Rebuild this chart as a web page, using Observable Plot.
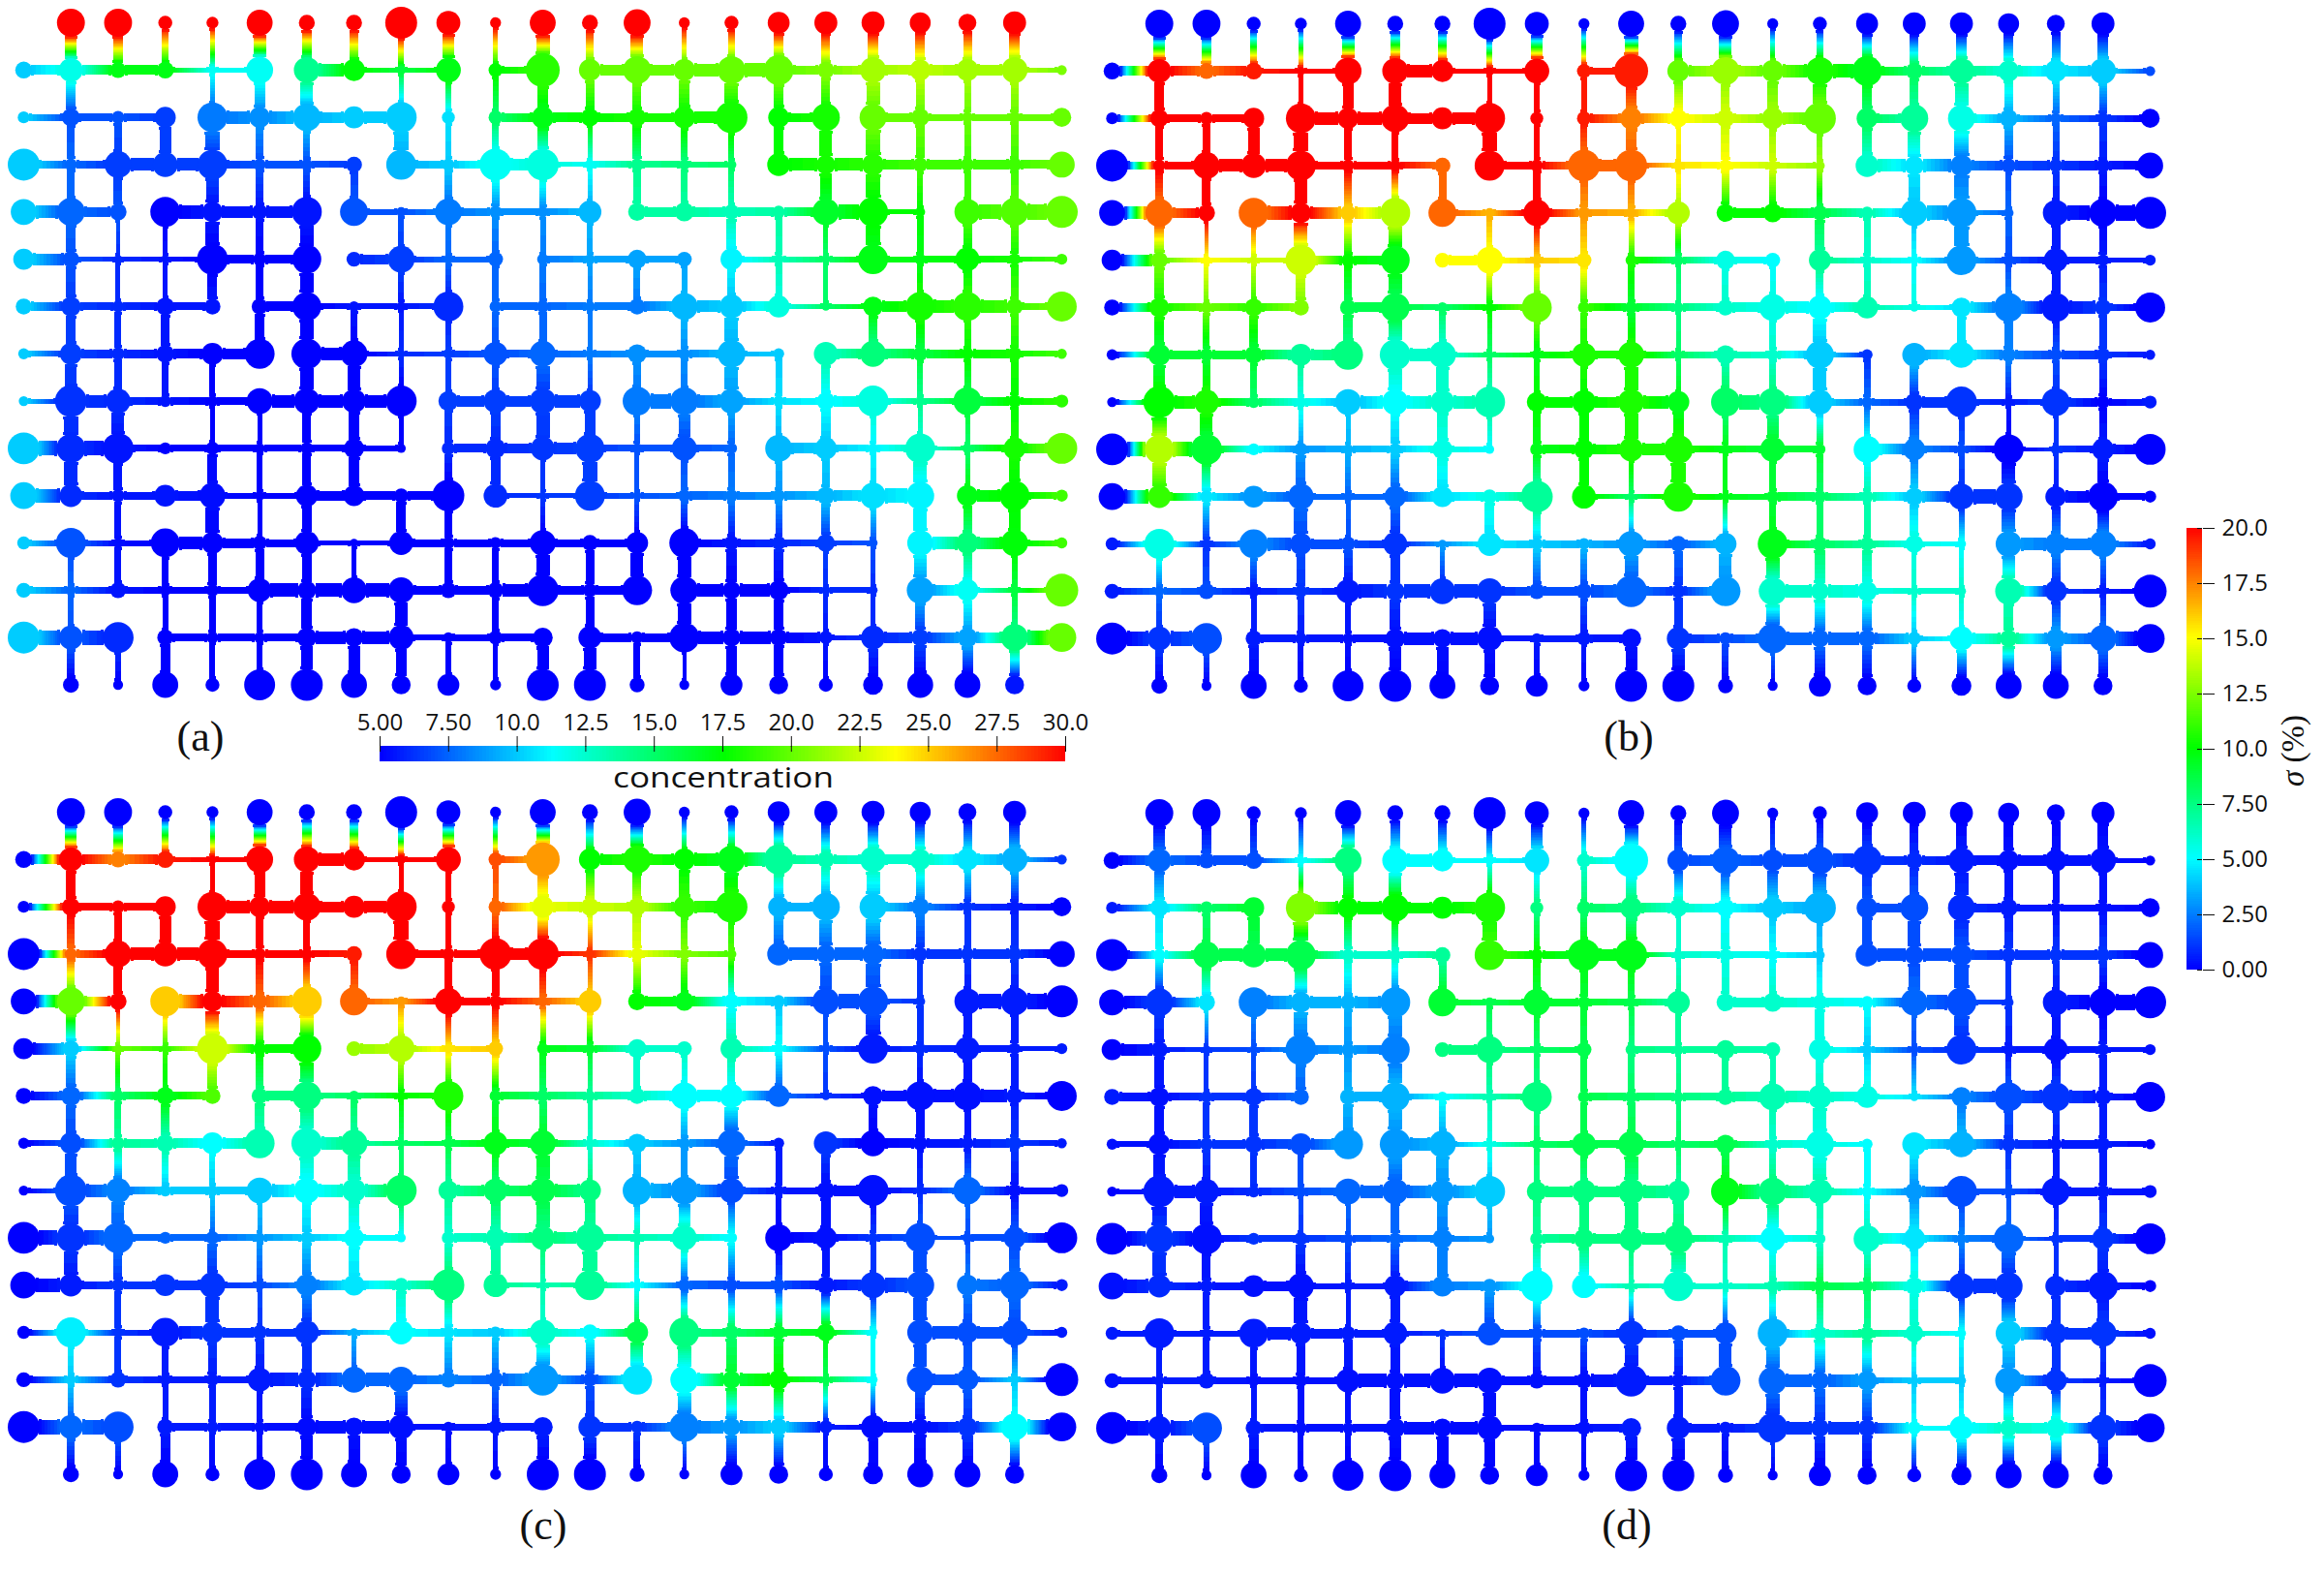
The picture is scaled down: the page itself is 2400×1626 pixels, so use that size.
<!DOCTYPE html>
<html><head><meta charset="utf-8">
<script src="https://cdn.jsdelivr.net/npm/d3@7"></script>
<script src="https://cdn.jsdelivr.net/npm/@observablehq/plot@0.6"></script>
<style>
html,body{margin:0;padding:0;background:#fff}
#page{position:relative;width:2400px;height:1626px;overflow:hidden;background:#fff}
#page svg{position:absolute;overflow:visible;background:transparent}
.lab{position:absolute;font-family:"Liberation Serif",serif;font-size:44px;line-height:44px;transform:translate(-50%,-50%);color:#111}
.barTitle{position:absolute;font-family:"Open Sans",sans-serif;font-weight:400;font-size:30px;line-height:30px;color:#111;transform:translate(-50%,-50%) scaleX(1.17);white-space:nowrap}
.sigma{position:absolute;font-family:"Liberation Serif",serif;font-size:33px;line-height:34px;color:#111;transform:translate(-50%,-50%) rotate(-90deg);white-space:nowrap}
</style></head><body><div id="page"></div>
<script>
// pore radius per row (15) and column (23); 0 = no pore
const poreRadius = [
[0,14,14,7,6,13,8,8,16,12,5.5,13,8,13.5,5.5,7,11,11.5,11.5,10.5,9,11.5,0],
[8.5,12,8,8.5,4,13.5,13,11,4,12.5,7,17,11,14,11,14,15,8.5,13,10.5,11,13,5],
[6,9,6.5,10.5,15,10.5,14,11,15.5,6.5,7,11,9,9,11,16,10.5,14,13.5,9,5,6,9.5],
[16,6,13.5,12.5,15,5,5,8,15,6,16,16,4.5,6,5,4.5,11.5,8,11,7,5,6,13],
[13,14,8.5,15,10,6,15,14,4,13.5,6,4,11.5,9,9.5,4,4,13.5,15,3.5,13,14,16],
[10.5,8,3,3,15.5,3,14.5,7.5,13.5,3,7.5,5,4,9.5,7.5,11,3,3,15,3,12,5,5.5],
[8,10,4,9,8,8,14.5,5,3,15,6,4,3,8,13.5,12,11,3,10,14.5,14.5,4,15],
[5.5,11,6,9,11,15,15.5,13.5,4,4,12,13,3,9.5,4,14,5.5,12,13,7,5,7,5],
[5,16,12.5,5,4,13,13,12,15.5,10,12,13,11,14.5,14,12.5,4,9,15.5,4,14,6,6.5],
[16,14.5,15.5,6,6.5,4,4,10,4,5.5,10,12,14.5,4,12.5,4.5,13.5,11,4,15,5,11,15.5],
[13.5,11.5,4,11,13,3,11,10.5,5,16,12,3,15,3,4,3.5,6,9,13,14,10.5,15,6],
[6.5,15,3.5,14.5,11,3,12,3.5,12,3,5,13,8,11,15,5.5,5,9,3.5,13,11,13.5,5.5],
[7.5,3,8,4,3.5,12,6,13,13,8,5,16,4,15,14,9,10,3,4,13.5,11,3.5,16.5],
[16,12,15.5,8,4,3.5,10,8,12.5,3.5,7,10,11.5,4,15,6,6,3,12,8.5,10,13.5,14.5],
[0,8,5,13,7,15.5,16,13,9.5,11,5.5,16,16,7.5,5,11,9.5,7,10,13,13,9.5,0]
];
// horizontal throat width, rows 1 to 13, between neighbouring columns; 0 = no throat
const hThroat = [
[10,10,10,5,5,0,13,5,5,0,7,0,11,11,13,14,9,9,10,11,11,5],
[7,8,8,0,13,13,11,12,0,0,9,10,9,9,12,0,9,0,9,7,7,7],
[8,8,13,13,8,8,7,0,8,8,12,5,7,7,6,0,13,13,10,10,10,9],
[13,10,0,14,12,12,0,6,6,8,7,7,0,10,10,9,9,15,5,0,15,16],
[12,5,5,5,9,9,0,10,6,6,0,7,7,7,0,6,6,6,6,7,7,5],
[9,8,8,8,0,10,6,6,6,0,8,8,8,10,12,10,5,5,11,13,13,7],
[6,9,9,10,11,0,13,5,5,7,8,7,7,7,8,5,0,10,10,9,9,6],
[5,13,8,8,8,13,13,13,0,11,11,13,0,15,13,7,7,11,6,6,9,7],
[15,15,7,7,7,7,7,6,0,9,10,12,7,7,7,0,11,7,7,4,7,10],
[14,8,8,10,6,6,10,9,9,0,5,5,6,6,9,8,9,11,15,0,12,7],
[6,6,6,13,10,8,5,5,8,8,8,8,8,0,8,8,7,5,0,13,12,6],
[7,7,7,7,7,14,14,14,9,9,13,9,9,0,13,13,6,6,0,11,5,5],
[15,15,0,8,8,8,13,13,6,7,8,0,9,9,13,13,11,5,11,11,11,15]
];
// vertical throat width, rows 0 to 13 going down, per column; 0 = no throat
const vThroat = [
[0,12,10,7,5,13,10,9,6,12,5,14,8,13,5,7,10,9,11,10,9,11,0],
[0,10,0,0,5,11,13,0,5,6,6,11,9,9,11,14,10,9,14,9,7,8,0],
[0,8,8,12,15,8,7,0,15,6,7,11,5,9,7,6,10,13,15,9,7,8,0],
[0,8,9,0,13,8,7,8,0,8,8,7,5,8,7,6,0,12,15,6,7,8,0],
[0,10,4,5,14,8,14,0,6,6,7,6,6,0,0,10,7,5,15,7,9,8,0],
[0,10,5,5,10,8,14,0,6,6,7,7,5,7,6,8,7,5,0,6,9,8,0],
[0,10,7,9,0,10,14,7,5,6,7,8,5,0,7,14,0,0,9,9,7,8,0],
[0,12,8,7,6,0,14,13,5,6,7,14,5,8,7,14,7,9,0,6,7,8,0],
[0,15,13,0,5,5,9,11,5,8,10,14,11,6,12,7,6,10,6,5,5,8,0],
[0,14,9,0,10,6,9,11,0,8,10,5,15,5,7,7,7,8,6,14,5,11,0],
[0,0,7,0,14,5,10,0,10,8,0,5,0,5,7,7,7,9,6,14,9,12,0],
[0,6,7,7,9,9,10,5,0,8,7,14,9,13,14,11,10,5,5,13,9,6,0],
[0,6,0,6,7,6,11,0,13,0,7,0,9,0,14,11,10,5,5,10,9,6,0],
[0,8,6,10,6,6,12,12,11,6,5,12,13,7,4,11,10,5,10,12,11,10,0]
];
// (a) concentration at each pore
const concentrationA = [
[0,30,30,30,30,30,30,30,30,30,30,30,30,30,30,30,30,30,30,30,30,30,0],
[10,11.8,17,17,11.5,11.5,14,17.3,16,17,17.5,18.5,20,20,20,20,20,20.5,21.5,22,21.5,21.5,20.5],
[10,7,7,6.5,8,8.5,9.5,10,10,10.5,15,17,17.5,18,18,18,17.5,18,20,20,20,20,20],
[10,7.5,6.5,6.5,6.5,7,7,6.5,9.5,10,11.5,12,11.5,14,14.5,15,17.5,18,18.5,19,19,19,20],
[10,7.5,7,5,5.5,5.5,5.5,7,7,8,8.5,8.5,9.5,13.5,13.5,13,13.5,16.5,17.5,17.5,19,19.5,20],
[10,7,6,5.5,5,5,5,6,6.5,7.5,7.5,8,9,9,9,11,13,15,17,17,17.5,18,19],
[10,6.5,6,5.5,5.5,5,5,5.5,5.5,6,7.5,7.5,8,8,9.5,10,12,15,17,18,18.5,19,20],
[10,6.5,6,5.5,5,5,5,5,6,6.5,7,7.5,8,8.5,8.5,9.5,10,13,14.5,16,17.5,18,19],
[10,6.2,6,5.5,5,5,5,5,5,6.5,6.5,6.5,6.5,8,8,9,10.5,11.2,12,14,16,17.5,18.5],
[10,6,5.5,5,5,5,5,5,5,6,6,6.3,6.5,7,7,7.5,9.5,10,11,12.5,15,18,20],
[10,6,5.5,5.5,5.3,5,5,5,5,5,6,6.3,6.5,7,7.5,8,8.7,9.5,10.5,11,17,17.5,19],
[10,7,5.3,5,5,5,5,5,5,5,5,5,5,5,5,5.5,6,6.5,7,11,14.5,17.3,19],
[10,7.5,5.5,5,5,5,5,5,5,5,5,5,5,5,5,5,5,6,6,9,11.5,16,20],
[10,7,6,5,5,5,5,5,5,5,5,5,5,5,5,5,5,5.5,6,6.5,9,14.5,20],
[0,5,5,5,5,5,5,5,5,5,5,5,5,5,5,5,5,5,5,5,5,5.5,0]
];
// (b) sigma at each pore
const sigmaB = [
[0,0,0,0,0,0,0,0,0,0,0,0,0,0,0,0,0,0,0,0,0,0,0],
[0,20,18,19.5,20,20,20,20,20,20,19.5,19.5,12,13,12,10.5,9.5,8,7,6,4.5,4,1.5],
[0,20,20,20,20,20,20,20,20,20,19.5,17.5,15,14,13,12,8,7,5.5,3.5,2,1,0],
[0,20,20,20,20,20,20,18,20,20,18,18,15.5,15,14,13,6,4.5,2.5,1.5,1,0.5,0],
[0,18,20,18,20,16,13.5,18,16.5,20,17,16.5,13.5,10,10,8.5,6.5,4,3,2,0.5,0,0],
[0,12,15,14,14,10,9.5,15,15,16,15.5,10.5,8,5.5,5,7,6,5,3,1.5,0.5,0.5,0.5],
[0,10.5,12,11,12.5,8.5,8.5,8,10,12,11,9,7.5,6,5.5,5,6.5,5.5,4.5,2.5,0.5,1,0],
[0,9,9,9,7,7.5,6,6,8,9.5,10.5,10.5,8,6.5,6,4,1,3.5,4.5,2.5,1.5,1,0.5],
[0,10,10.5,8,5.5,4,5,6,6.5,10,10,10.5,9.5,8,7.5,4,2,1,1,0.5,1,0,0.5],
[0,13.5,9,5,3,3.5,4,5.5,5,9.5,10,10.5,10.5,9.5,9,9,5,2.5,1.5,0,1,0.5,0],
[0,11,4.5,3,2,2,2,4.5,5.5,7,10,8,10.5,9.5,9,8,6.5,4,1,1,0.5,0,0],
[0.5,5.5,1,2.5,1.5,1.5,1,3,4.5,4,3.5,3,2,3.5,9.5,8,7,5.5,5,3,2.5,2.5,0.5],
[0.5,2,1.5,0.5,1,0.5,1,1,1,1.5,1.5,2,1,3,6,6,5.5,6,6,6.5,1,0.5,0],
[0,1,1.5,0.5,0.5,0.3,0.3,0.3,0.3,0.5,0.5,0.3,1,1.5,2,2,2,4,5,7,3,2,0],
[0,0,0,0,0,0,0,0,0,0,0,0,0,0,0,0,0,0,0,0,0,0,0]
];
// (c) sigma at each pore
const sigmaC = [
[0,0,0,0,0,0,0,0,0,0,0,0,0,0,0,0,0,0,0,0,0,0,0],
[0,20,17.5,19.5,20,20,20,20,20,20,18.5,17,10,10.5,10,9.5,7,6.5,6,6,4.5,3.5,1],
[0,20,20,20,20,20,20,20,20,20,18,14.5,14,13.5,11,10.5,3.5,3.5,4,2.5,1,0.5,0],
[0,18,20,20,20,20,20,19.5,20,20,20,20,19,14.5,12.5,11.5,2,2,2,1,1,1,0],
[0,12,20,16,20,18,16,18,17,20,20,18,16,10,9.5,5,4,1.5,1.5,1,0.5,0.5,0],
[0,4,12,11,14,10,10,13,13.5,15.5,16,9.5,9,6,6,6.5,5,1.5,0.5,0.8,0.5,0.5,0.5],
[0,2,8,9.5,11.5,7.5,7.5,8,10,10.5,9,8,7,6,5,5,2,1,0.3,0.3,0.3,0.5,0],
[0,1.5,7,6.5,5,6.5,6,7,8,8.5,9.5,9,6,4,3,2,0.5,1,0,0.3,0.5,1,0.5],
[0,1.5,2.5,4,4,4,5,6,8,7,8,8.5,7.5,3.5,3,1.5,0.5,0.3,0.3,0.8,2,0.3,0.3],
[0,1,2,2,2,3,4,5,5,6,6.5,7.5,7,6.5,6,5,0,0.3,1,1.5,1.5,1.5,0],
[0,0.5,1,1,1,1.5,2.5,4.5,6,7.5,7,6.5,7,5,2,1.5,1.5,0.5,1,1.5,2.3,2,0.5],
[0,4.7,1,0.5,1,1,1,3.5,5,4.5,4,6,5,8.5,7.5,8,9,9.5,5,1.5,1.5,1.5,0.5],
[0,4,1,0.5,0.5,0.5,0.8,2,2,2.5,2,3,1.5,4.5,5,9,10,8.5,5,1.5,1.7,4,0],
[0,2,1.5,0.5,0.5,0.3,0.2,0.3,0.3,0.3,0.5,0.5,1,1,2.5,3,4,0.5,0.2,0.3,1,5,0],
[0,0,0,0,0,0,0,0,0,0,0,0,0,0,0,0,0,0,0,0,0,0,0]
];
// (d) sigma at each pore
const sigmaD = [
[0,0,0,0,0,0,0,0,0,0,0,0,0,0,0,0,0,0,0,0,0,0,0],
[0,2,1.5,1.5,5,7.5,5,5,5,4.5,6,5,1.5,1.8,1.5,1.5,1,0.8,0.5,0.3,0.3,0.3,0],
[0.5,4.5,8,9,12.5,10,10,10,10.5,7.5,8,7.5,6,5,4,3.5,1.5,1.5,0.8,0.5,0.3,0.3,0],
[0,5,8.5,8.5,8.5,6,6,7,11,10,9.5,9.5,6,5.5,5,4,1.5,1.5,1.5,1,1,1,0],
[0,1,4.5,2.5,3.5,3.5,3,9,8.5,9,9,8.5,7,6,6,5.5,5,2,1.5,1,0.5,0,0],
[0,0.5,1,1.5,2.5,3,2.5,7.5,7.5,8,8.5,7.5,7,7,6.5,5.5,4,1.5,1,0.5,0.3,0.5,0.3],
[0.5,0.3,1,1,2,3.5,3.5,5,6.5,7.5,8.5,8,7.5,7,6.5,6,5.5,4.5,2.5,1.5,1,0.5,0],
[0.3,0.3,1,1,1.5,3,3,3.5,5.5,8,8.5,8.5,8,8.5,6,5.5,5,4.5,3.5,1,0.5,0.5,0],
[0,0.5,0.5,0.8,1.5,2,2,3,4,7.5,7.5,7.5,7,9.5,7.5,6.5,5,3,1.5,1.5,0.5,0.5,0.3],
[0,1,0.3,1,1,1.5,2,2.5,3,7,7.5,7.5,7.5,6.5,5,6,6,4.5,2.5,2,1,1,0],
[0.3,0.8,0.5,0.3,0.3,0.5,0.5,2.5,3,5,5,6.5,6,6,6.5,8.5,8,5.5,1,1,0.8,0.5,0],
[0.5,0.5,0.5,0.5,0.5,0.5,0.5,1,1.5,1.5,1.5,1,1.5,1.5,3.5,6,7,6,5,4,1,1,0.3],
[0.3,0.5,0.5,0.3,0.3,0.3,0.3,0.3,0.3,0.3,0.3,0.5,0.5,1.5,2,2,3,4,4,3,1,0.5,0],
[0,0.5,1.5,0.5,0.3,0.3,0.3,0.2,0.2,0.2,0.3,0.5,0.5,0.5,1,1,1,5,5,6,5.5,1,0],
[0,0,0,0,0,0,0,0,0,0,0,0,0,0,0,0,0,0,0,0,0,0,0]
];
const rainbow = ["#0000ff","#00ffff","#00ff00","#ffff00","#ff0000"];
const concDomain = [5,11.25,17.5,23.75,30];
const sigmaDomain = [0,5,10,15,20];
const concTicks = [5,7.5,10,12.5,15,17.5,20,22.5,25,27.5,30];
const concLabels = ["5.00","7.50","10.0","12.5","15.0","17.5","20.0","22.5","25.0","27.5","30.0"];
const sigmaTicks = [0,2.5,5,7.5,10,12.5,15,17.5,20];
const sigmaLabels = ["0.00","2.50","5.00","7.50","10.0","12.5","15.0","17.5","20.0"];

const page = document.getElementById("page");
function place(el,l,t){el.style.left=l+"px";el.style.top=t+"px";page.appendChild(el);}

// junction size follows the throats meeting at the pore
function junction(r,c){
  let wh=0,wv=0;
  if(r>=1&&r<=13){ if(c>0) wh=Math.max(wh,hThroat[r-1][c-1]); if(c<22) wh=Math.max(wh,hThroat[r-1][c]); }
  if(r<14) wv=Math.max(wv,vThroat[r][c]);
  if(r>0) wv=Math.max(wv,vThroat[r-1][c]);
  return Math.hypot(wh,wv)/2+0.8;
}
const pores=[];
poreRadius.forEach((row,r)=>row.forEach((rad,c)=>{
  if(rad>0) pores.push({r,c,rad:Math.max(rad*1.03,junction(r,c))});
}));
const radAt=(r,c)=>{const p=pores.find(d=>d.r===r&&d.c===c);return p?p.rad:0;};

function throatSegments(vals,span){
  const segs=[], L=48.72;
  const add=(r1,c1,r2,c2,w)=>{
    if(!w) return;
    const a=radAt(r1,c1), b=radAt(r2,c2), v1=vals[r1][c1], v2=vals[r2][c2];
    const s0=(a-1)/L, s1=1-(b-1)/L;
    const seg=(p,q,wd)=>{
      const m=((p+q)/2-s0)/(s1-s0);
      segs.push({x1:c1+(c2-c1)*p,x2:c1+(c2-c1)*q,y1:r1+(r2-r1)*p,y2:r1+(r2-r1)*q,v:v1+(v2-v1)*m,w:wd});
    };
    const n=Math.max(1,Math.ceil(Math.abs(v1-v2)/span*70));
    for(let i=0;i<n;i++) seg(s0+(s1-s0)*i/n,s0+(s1-s0)*(i+1)/n,w);
    // slight flare where the throat enters a pore
    if((s1-s0)*L>12){ seg(s0,s0+3/L,w+1); seg(s1-3/L,s1,w+1); }
  };
  hThroat.forEach((row,i)=>row.forEach((w,c)=>add(i+1,c,i+1,c+1,w)));
  vThroat.forEach((row,r)=>row.forEach((w,c)=>add(r,c,r+1,c,w)));
  return segs;
}

function panel(vals,domain,left,top){
  const span=domain[4]-domain[0];
  const svg=Plot.plot({
    width:1130,height:735,margin:0,
    x:{domain:[0,22],range:[24,1096],axis:null},
    y:{domain:[0,14],range:[23,706.5],axis:null},
    r:{type:"linear",domain:[0,16],range:[0,16]},
    color:{type:"linear",domain,range:rainbow,interpolate:"rgb"},
    marks:[
      Plot.link(throatSegments(vals,span),{x1:"x1",y1:"y1",x2:"x2",y2:"y2",stroke:"v",strokeWidth:"w",strokeLinecap:"butt",shapeRendering:"crispEdges"}),
      Plot.dot(pores,{x:"c",y:"r",r:"rad",fill:d=>vals[d.r][d.c],stroke:null})
    ]
  });
  place(svg,left,top);
}
panel(concentrationA,concDomain,0,0);
panel(sigmaB,sigmaDomain,1123.5,1);
panel(sigmaC,sigmaDomain,0,815);
panel(sigmaD,sigmaDomain,1123.5,816);

// horizontal bar
const concSteps=d3.range(5,30,0.125);
place(Plot.plot({
  width:800,height:70,marginLeft:52,marginRight:40,marginTop:40,marginBottom:14,
  style:{fontFamily:"Open Sans",fontWeight:400,fontSize:"24px",color:"#111"},
  x:{domain:[5,30],axis:null},
  y:{domain:[0,1],axis:null},
  color:{type:"linear",domain:concDomain,range:rainbow,interpolate:"rgb"},
  marks:[
    Plot.rect(concSteps,{x1:d=>d,x2:d=>d+0.125,y1:0,y2:1,fill:d=>d,shapeRendering:"crispEdges"}),
    Plot.axisX({anchor:"top",ticks:concTicks,tickFormat:d=>concLabels[concTicks.indexOf(d)],tickSize:11,tickPadding:6,label:null,fontSize:24,stroke:"#111",fill:"#111"}),
    Plot.ruleX(concTicks,{y1:0.625,y2:1,stroke:"#111"})
  ]
}),340,730);

// vertical bar
const sigmaSteps=d3.range(0,20,0.1);
place(Plot.plot({
  width:140,height:480,marginLeft:18,marginRight:106,marginTop:15,marginBottom:9,
  style:{fontFamily:"Open Sans",fontWeight:400,fontSize:"24px",color:"#111"},
  x:{domain:[0,1],axis:null},
  y:{domain:[0,20],axis:null},
  color:{type:"linear",domain:sigmaDomain,range:rainbow,interpolate:"rgb"},
  marks:[
    Plot.rect(sigmaSteps,{y1:d=>d,y2:d=>d+0.1,x1:0,x2:1,fill:d=>d,shapeRendering:"crispEdges"}),
    Plot.axisY({anchor:"right",ticks:sigmaTicks,tickFormat:d=>sigmaLabels[sigmaTicks.indexOf(d)],tickSize:12,tickPadding:8,label:null,fontSize:24,stroke:"#111",fill:"#111",textAnchor:"start"}),
    Plot.ruleY(sigmaTicks,{x1:0.6875,x2:1,stroke:"#111"})
  ]
}),2240,530);

function text(cls,html,x,y){const e=document.createElement("div");e.className=cls;e.innerHTML=html;place(e,x,y);}
text("lab","(a)",207,761);
text("lab","(b)",1682,761);
text("lab","(c)",561,1575);
text("lab","(d)",1680,1575);
text("barTitle","concentration",747,802);
text("sigma","<i>σ</i> (%)",2368,775);
</script></body></html>
